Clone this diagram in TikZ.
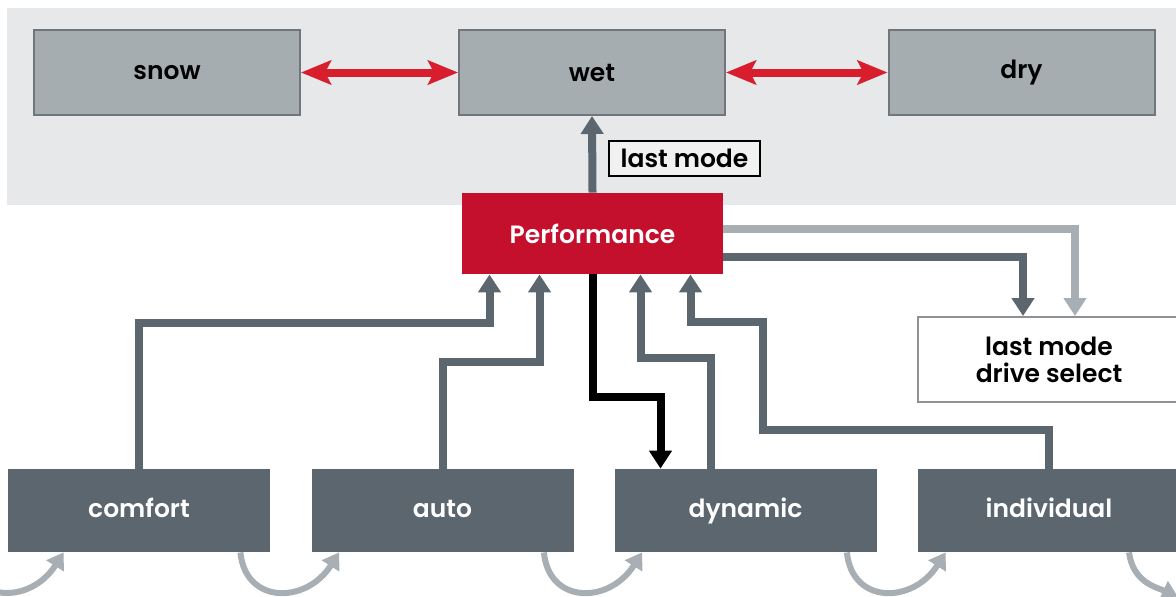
\documentclass[tikz,border=0pt]{standalone}
\usepackage{fontspec}
\setmainfont{Poppins}[BoldFont={Poppins SemiBold}]
\usepackage{xcolor}
\definecolor{band}{HTML}{E7E8E9}
\definecolor{surface}{HTML}{A6ADB1}
\definecolor{surfedge}{HTML}{6F777C}
\definecolor{audired}{HTML}{C40F2D}
\definecolor{arrowred}{HTML}{D81E2C}
\definecolor{slate}{HTML}{5B666E}
\definecolor{silver}{HTML}{A8AFB4}
\usetikzlibrary{calc,arrows.meta}

\begin{document}
\begin{tikzpicture}[
		x=0.5pt, y=-0.5pt,
		font=\bfseries\fontsize{12.5}{13.5}\selectfont,
		surfacebox/.style={draw=surfedge, line width=1pt, fill=surface, minimum width=133pt, minimum height=42.5pt, inner sep=0pt},
		modebox/.style={fill=slate, text=white, minimum width=131pt, minimum height=41.5pt, inner sep=0pt, text height=1.6ex, text depth=0.4ex},
		redlink/.style={arrowred, line width=4pt, {Stealth[length=15pt,width=12pt,inset=3pt]}-{Stealth[length=15pt,width=12pt,inset=3pt]}},
		darklink/.style={slate, line width=4pt, -{Triangle[length=9pt,width=11pt]}},
		lightlink/.style={silver, line width=4pt, -{Triangle[length=9pt,width=11pt]}},
		blacklink/.style={black, line width=4pt, -{Triangle[length=9pt,width=11pt]}},
		cyclelink/.style={silver, line width=3pt, -{Triangle[length=8pt,width=10pt]}}
	]
		\path[use as bounding box, clip] (0,0) rectangle (1176,596);

		% Surface band
		\fill[band] (7,8) rectangle (1176,205);

		% Surface modes
		\node[surfacebox] (snow) at (167,72.5) {snow};
		\node[surfacebox] (wet) at (592,72.5) {wet};
		\node[surfacebox] (dry) at (1021.5,72.5) {dry};
		\draw[redlink] (snow.east) -- (wet.west);
		\draw[redlink] (wet.east) -- (dry.west);

		% Performance and memory
		\node[fill=audired, text=white, minimum width=130.5pt, minimum height=40.5pt, inner sep=0pt] (perf) at (592.5,233.5) {Performance};
		\node[draw=black, line width=0.75pt, fill=band!60!white, minimum width=75.5pt, minimum height=17.5pt, inner sep=0pt] (lastmode) at (684.5,158.5) {last mode};
		\node[draw=surfedge!80, line width=1pt, fill=white, minimum width=131pt, minimum height=42.5pt, inner sep=0pt, align=center] (drive) at (1049,359.5) {last mode\\drive select};
		\draw[darklink] (perf.north) -- (wet.south);
		\draw[lightlink] ($(perf.east)+(0,-4.5)$) -| ($(drive.north)+(26,0)$);
		\draw[darklink] ($(perf.east)+(0,23.5)$) -| ($(drive.north)+(-26,0)$);

		% Drive select modes
		\node[modebox] (comfort) at (139,510.5) {comfort};
		\node[modebox] (auto) at (442.5,510.5) {auto};
		\node[modebox] (dyn) at (745.5,510.5) {dynamic};
		\node[modebox] (indiv) at (1049,510.5) {individual};

		% Paths into and out of Performance
		\draw[darklink] (comfort.north) -- ++(0,-146) -| ($(perf.south)+(-103,0)$);
		\draw[darklink] (auto.north) -- ++(0,-107) -| ($(perf.south)+(-53,0)$);
		\draw[blacklink] ($(perf.south)+(0.5,0)$) -- ++(0,123) -| ($(dyn.north)+(-85,0)$);
		\draw[darklink] ($(dyn.north)+(-34.5,0)$) -- ++(0,-111) -| ($(perf.south)+(48,0)$);
		\draw[darklink] (indiv.north) -- ++(0,-39) -- ++(-286,0) -- ++(0,-108) -| ($(perf.south)+(98,0)$);

		% Button cycle
		\coordinate (cyclein) at (-35,552);
		\coordinate (cycleout) at (1178,597);
		\draw[cyclelink] (cyclein) .. controls +(5,52) and +(-33,52) .. ($(comfort.south west)+(56,0)$);
		\foreach \a/\b in {comfort/auto, auto/dyn, dyn/indiv}
			\draw[cyclelink] ($(\a.south east)+(-30,0)$) .. controls +(5,52) and +(-33,52) .. ($(\b.south west)+(28,0)$);
		\draw[cyclelink] ($(indiv.south)+(80,0)$) .. controls +(4,30) and +(-22,-10) .. (cycleout);
	\end{tikzpicture}
\end{document}
